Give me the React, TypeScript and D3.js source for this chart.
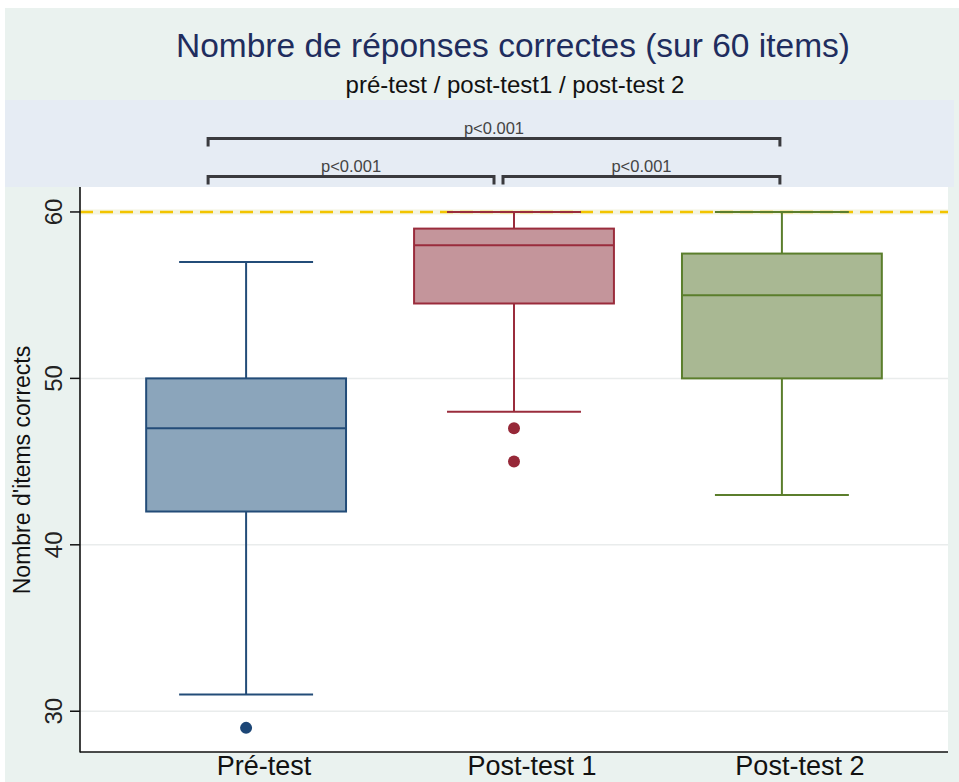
import React from "react";
import * as d3 from "d3";

const categories = ["Pré-test", "Post-test 1", "Post-test 2"];
const q1 = [42, 54.5, 50];
const median = [47, 58, 55];
const q3 = [50, 59, 57.5];
const whiskerLow = [31, 48, 43];
const whiskerHigh = [57, 60, 60];
const outliers: number[][] = [[29], [47, 45], []];
const yTicks = [30, 40, 50, 60];
const refLine = 60;
const comparisons = [
  { from: 0, to: 2, label: "p<0.001", level: 1 },
  { from: 0, to: 1, label: "p<0.001", level: 0 },
  { from: 1, to: 2, label: "p<0.001", level: 0 },
];

const fills = ["#8ba5bb", "#c4959b", "#a9b893"];
const strokes = ["#234c78", "#9a2c3c", "#5b7e2c"];
const dots = ["#1c4676", "#962838", "#5b7e2c"];

const W = 959;
const H = 782;
const plotL = 80;
const plotR = 948;
const plotT = 187;
const plotB = 752;
const FONT = "'Liberation Sans', Arial, sans-serif";

export default function App() {
  const y = d3.scaleLinear().domain([27.55, 61.5]).range([plotB, plotT]);
  const x = d3.scalePoint<string>().domain(categories).range([plotL, plotR]).padding(0.62);
  const step = x.step();
  const boxW = step * 0.746;
  const capW = step * 0.5;

  return (
    <div style={{ position: "fixed", left: 0, top: 0 }}>
      <svg width={W} height={H} style={{ display: "block", fontFamily: FONT }}>
        <rect x={0} y={0} width={W} height={H} fill="#ffffff" />
        <rect x={5} y={8} width={W - 5} height={H - 8} fill="#eaf2ef" />
        <rect x={5} y={100} width={W - 10} height={plotT - 100} fill="#e6ecf4" />
        <rect x={plotL} y={plotT} width={plotR - plotL} height={plotB - plotT} fill="#ffffff" />

        <text x={513} y={57} textAnchor="middle" fontSize={33.5} fill="#1f2d5e">
          Nombre de réponses correctes (sur 60 items)
        </text>
        <text x={515} y={93} textAnchor="middle" fontSize={24} fill="#111" fontWeight={500}>
          pré-test / post-test1 / post-test 2
        </text>

        {/* grid */}
        {yTicks.filter((t) => t !== refLine).map((t) => (
          <line key={t} x1={plotL} x2={plotR} y1={y(t)} y2={y(t)} stroke="#e9ecec" strokeWidth={1.5} />
        ))}
        {/* reference line */}
        <line x1={plotL} x2={plotR} y1={y(refLine)} y2={y(refLine)} stroke="#f4f4e0" strokeWidth={5} />
        <line x1={plotL} x2={plotR} y1={y(refLine)} y2={y(refLine)} stroke="#f2c400" strokeWidth={2.5} strokeDasharray="13 7" />

        {/* boxes */}
        {categories.map((c, i) => {
          const cx = x(c)!;
          return (
            <g key={c}>
              <line x1={cx} x2={cx} y1={y(whiskerHigh[i])} y2={y(q3[i])} stroke={strokes[i]} strokeWidth={2} />
              <line x1={cx} x2={cx} y1={y(q1[i])} y2={y(whiskerLow[i])} stroke={strokes[i]} strokeWidth={2} />
              <line x1={cx - capW / 2} x2={cx + capW / 2} y1={y(whiskerHigh[i])} y2={y(whiskerHigh[i])} stroke={strokes[i]} strokeWidth={2} />
              <line x1={cx - capW / 2} x2={cx + capW / 2} y1={y(whiskerLow[i])} y2={y(whiskerLow[i])} stroke={strokes[i]} strokeWidth={2} />
              <rect x={cx - boxW / 2} y={y(q3[i])} width={boxW} height={y(q1[i]) - y(q3[i])} fill={fills[i]} stroke={strokes[i]} strokeWidth={2} />
              <line x1={cx - boxW / 2} x2={cx + boxW / 2} y1={y(median[i])} y2={y(median[i])} stroke={strokes[i]} strokeWidth={2} />
              {outliers[i].map((o, k) => (
                <circle key={k} cx={cx} cy={y(o)} r={6} fill={dots[i]} />
              ))}
            </g>
          );
        })}

        {/* axes */}
        <line x1={plotL} x2={plotL} y1={plotT} y2={plotB + 0.5} stroke="#111" strokeWidth={1.6} />
        <line x1={plotL} x2={plotR} y1={plotB} y2={plotB} stroke="#111" strokeWidth={1.6} />
        {yTicks.map((t) => (
          <g key={t}>
            <line x1={plotL - 10} x2={plotL} y1={y(t)} y2={y(t)} stroke="#111" strokeWidth={1.5} />
            <text
              transform={`translate(62,${y(t)}) rotate(-90)`}
              textAnchor="middle"
              fontSize={24}
              fill="#222"
            >
              {t}
            </text>
          </g>
        ))}
        <text transform={`translate(30,470) rotate(-90)`} textAnchor="middle" fontSize={23} fill="#111">
          Nombre d'items corrects
        </text>
        {categories.map((c) => (
          <text key={c} x={x(c)! + 18} y={775} textAnchor="middle" fontSize={27} fill="#111">
            {c}
          </text>
        ))}

        {/* comparison brackets */}
        {comparisons.map((cmp, k) => {
          const by = cmp.level === 1 ? 138.5 : 176.5;
          let x1 = x(categories[cmp.from])! - 38;
          let x2 = x(categories[cmp.to])! - 2;
          if (cmp.level === 0 && cmp.from === 0) x2 = x(categories[cmp.to])! - 20;
          if (cmp.level === 0 && cmp.from === 1) x1 = x(categories[cmp.from])! - 11;
          const path = `M${x1},${by + 8}V${by}H${x2}V${by + 8}`;
          return (
            <g key={k}>
              <path d={path} fill="none" stroke="#3a3a3e" strokeWidth={3} />
              <text x={(x1 + x2) / 2} y={by - 5} textAnchor="middle" fontSize={16.5} fill="#444">
                {cmp.label}
              </text>
            </g>
          );
        })}
      </svg>
    </div>
  );
}
